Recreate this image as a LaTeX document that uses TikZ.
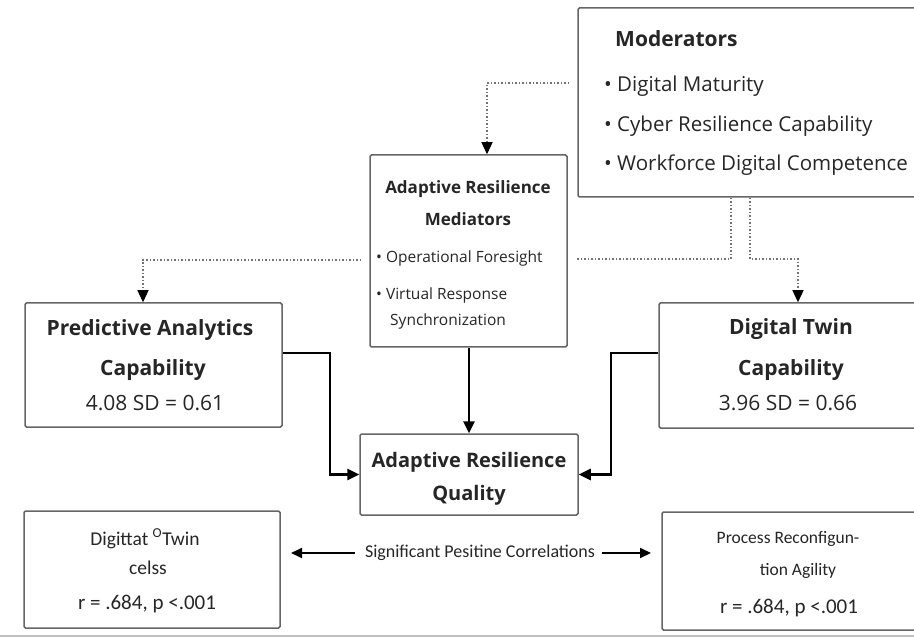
\documentclass[tikz,border=0pt]{standalone}
\usepackage{fontspec}
\setmainfont{Open Sans}
\newfontfamily\calib{Carlito}
\usetikzlibrary{arrows.meta,calc}
\begin{document}
\begin{tikzpicture}[x=1pt,y=-1pt,
  box/.style={draw=black!60, line width=1.5pt, rounded corners=1.5pt, fill=white, inner sep=0pt},
  solidarr/.style={line width=2.6pt, -{Triangle[length=12pt,width=11pt]}},
  dotarr/.style={black!55, line width=1.3pt, dash pattern=on 1.3pt off 2.2pt, -{Triangle[length=12pt,width=11pt,color=black]}},
  dotline/.style={black!55, line width=1.3pt, dash pattern=on 1.3pt off 2.2pt},
  corrarr/.style={line width=2pt, -{Triangle[length=11pt,width=10pt]}},
  lt/.style={inner sep=0pt, anchor=base west, text=black!85},
  ct/.style={inner sep=0pt, anchor=base, text=black!85},
  bigb/.style={font=\bfseries\fontsize{21}{25}\selectfont},
  bigr/.style={font=\fontsize{21}{25}\selectfont},
  modr/.style={font=\fontsize{20.5}{25}\selectfont},
  medb/.style={font=\bfseries\fontsize{17}{20}\selectfont},
  medr/.style={font=\fontsize{15.5}{18}\selectfont},
  arqf/.style={font=\bfseries\fontsize{20}{24}\selectfont},
  calt/.style={font=\calib\fontsize{17.5}{21}\selectfont},
  calbl/.style={font=\calib\fontsize{19.5}{23}\selectfont},
  calr/.style={font=\calib\fontsize{21}{25}\selectfont}
]
\useasboundingbox (0,0) rectangle (914,639);

% boxes
\node[box, minimum width=350pt, minimum height=189pt] (mod) at (753,102.5) {};
\node[box, minimum width=197pt, minimum height=192pt] (med) at (468.5,251) {};
\node[box, minimum width=257pt, minimum height=124pt] (pac) at (153.5,365) {};
\node[box, minimum width=262pt, minimum height=125pt] (dt) at (790,365.5) {};
\node[box, minimum width=218pt, minimum height=81pt] (arq) at (469,474.5) {};
\node[box, minimum width=256pt, minimum height=117pt] (bl) at (152,569.5) {};
\node[box, minimum width=254pt, minimum height=118pt] (br) at (789,571) {};

% moderators text
\node[lt, bigb] (modt) at (615,47) {Moderators};
\node[lt, modr] (m1) at (604,92) {• Digital Maturity};
\node[lt, modr] (m2) at (604,132) {• Cyber Resilience Capability};
\node[lt, modr] (m3) at (604,171) {• Workforce Digital Competence};

% mediators text
\node[ct, medb] (medt1) at (468,194) {Adaptive Resilience};
\node[ct, medb] (medt2) at (468,226) {Mediators};
\node[lt, medr] (md1) at (376,263) {• Operational Foresight};
\node[lt, medr] (md2) at (376,300) {• Virtual Response};
\node[lt, medr] (md3) at (390,326) {Synchronization};

% predictive analytics
\node[ct, bigb] (pact1) at (150,336) {Predictive Analytics};
\node[ct, bigb] (pact2) at (153,375) {Capability};
\node[ct, bigr] (pact3) at (155,410) {4.08 SD = 0.61};

% digital twin
\node[ct, bigb] (dtt1) at (791,335) {Digital Twin};
\node[ct, bigb] (dtt2) at (791,375) {Capability};
\node[ct, bigr] (dtt3) at (788,410) {3.96 SD = 0.66};

% adaptive resilience quality
\node[ct, arqf] (arqt1) at (469,467) {Adaptive Resilience};
\node[ct, arqf] (arqt2) at (469,500) {Quality};

% bottom left
\node[ct, calbl] (blt1) at (145,545) {Digittat \textsuperscript{O}Twin};
\node[ct, calbl] (blt2) at (148,574) {celss};
\node[ct, calr] (blt3) at (147,609) {r = .684, p <.001};

% bottom right
\node[ct, calt] (brt1) at (788,543) {Process Reconfigun-};
\node[ct, calt] (brt2) at (798,575) {tion Agility};
\node[ct, calr] (brt3) at (789,613) {r = .684, p <.001};

% correlation
\node[inner sep=0pt, font=\calib\fontsize{18}{21}\selectfont, text=black!85] (corr) at (480,553) {Significant Pesitine Correlations};
\coordinate (cl) at (291,553);
\coordinate (cr) at (651,553);
\draw[corrarr] ([xshift=-10pt]corr.west) -- (cl);
\draw[corrarr] ([xshift=7pt]corr.east) -- (cr);

% dotted connectors
\coordinate (d1) at (487,83);
\draw[dotarr] ([xshift=-8pt]mod.west |- d1) -- (d1) -- (d1 |- med.north);
\coordinate (d2) at (143,260);
\draw[dotarr] ([xshift=-8pt]med.west |- d2) -- (d2) -- (d2 |- pac.north);
\coordinate (d3) at (731,259);
\draw[dotline] (d3 |- mod.south) -- (d3) -- ([xshift=8pt]med.east |- d3);
\coordinate (d4) at (750,259);
\coordinate (d5) at (798,259);
\draw[dotarr] (d4 |- mod.south) -- (d4) -- (d5) -- (d5 |- dt.north);

% solid connectors
\coordinate (s1) at (330,353);
\draw[solidarr] (pac.east |- s1) -- (s1) -- (s1 |- arq.west) -- (arq.west);
\draw[solidarr] (med.south -| arq.north) -- (arq.north);
\coordinate (s2) at (611,353);
\draw[solidarr] (dt.west |- s2) -- (s2) -- (s2 |- arq.east) -- (arq.east);

% bottom rule
\draw[black!25, line width=1.2pt] (0,636) -- (914,636);
\end{tikzpicture}
\end{document}
